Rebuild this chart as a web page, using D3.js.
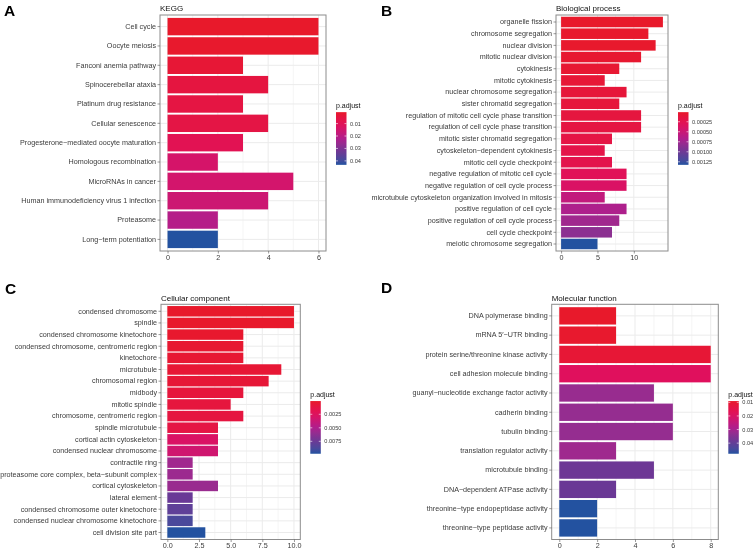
<!DOCTYPE html>
<html><head><meta charset="utf-8">
<script src="https://cdn.jsdelivr.net/npm/d3@7"></script>
<style>
body{margin:0;background:#fff;}
svg{display:block;font-family:"Liberation Sans",Arial,Helvetica,sans-serif;will-change:transform;opacity:0.999;}
</style></head>
<body><svg id="c" width="753" height="549"></svg>
<script>
// ---------- DATA ----------
const keggTerms = ["Cell cycle","Oocyte meiosis","Fanconi anemia pathway","Spinocerebellar ataxia","Platinum drug resistance","Cellular senescence","Progesterone\u2212mediated oocyte maturation","Homologous recombination","MicroRNAs in cancer","Human immunodeficiency virus 1 infection","Proteasome","Long\u2212term potentiation"];
const keggCount = [6,6,3,4,3,4,3,2,5,4,2,2];
const keggPadj  = [0.0008,0.0012,0.003,0.005,0.0055,0.006,0.009,0.014,0.0145,0.016,0.021,0.0432];
const keggXTicks = [0,2,4,6];
const keggLegTicks = [0.01,0.02,0.03,0.04];

const bpTerms = ["organelle fission","chromosome segregation","nuclear division","mitotic nuclear division","cytokinesis","mitotic cytokinesis","nuclear chromosome segregation","sister chromatid segregation","regulation of mitotic cell cycle phase transition","regulation of cell cycle phase transition","mitotic sister chromatid segregation","cytoskeleton\u2212dependent cytokinesis","mitotic cell cycle checkpoint","negative regulation of mitotic cell cycle","negative regulation of cell cycle process","microtubule cytoskeleton organization involved in mitosis","positive regulation of cell cycle","positive regulation of cell cycle process","cell cycle checkpoint","meiotic chromosome segregation"];
const bpCount = [14,12,13,11,8,6,9,8,11,11,7,6,7,9,9,6,9,8,7,5];
const bpPadj  = [0.00001,0.00002,0.00002,0.00004,0.00006,0.00008,0.0001,0.00011,0.00013,0.00015,0.00017,0.0002,0.00022,0.0003,0.00038,0.00055,0.00068,0.00075,0.00085,0.001326];
const bpXTicks = [0,5,10];
const bpLegTicks = [0.00025,0.0005,0.00075,0.001,0.00125];

const ccTerms = ["condensed chromosome","spindle","condensed chromosome kinetochore","condensed chromosome, centromeric region","kinetochore","microtubule","chromosomal region","midbody","mitotic spindle","chromosome, centromeric region","spindle microtubule","cortical actin cytoskeleton","condensed nuclear chromosome","contractile ring","proteasome core complex, beta\u2212subunit complex","cortical cytoskeleton","lateral element","condensed chromosome outer kinetochore","condensed nuclear chromosome kinetochore","cell division site part"];
const ccCount = [10,10,6,6,6,9,8,6,5,6,4,4,4,2,2,4,2,2,2,3];
const ccPadj  = [0.00005,0.0001,0.0002,0.0003,0.0004,0.0005,0.0006,0.0008,0.0009,0.001,0.0012,0.0028,0.0034,0.0055,0.0057,0.0058,0.0075,0.008,0.0088,0.0098];
const ccXTicks = [0,2.5,5,7.5,10];
const ccLegTicks = [0.0025,0.005,0.0075];

const mfTerms = ["DNA polymerase binding","mRNA 5\u2032\u2212UTR binding","protein serine/threonine kinase activity","cell adhesion molecule binding","guanyl\u2212nucleotide exchange factor activity","cadherin binding","tubulin binding","translation regulator activity","microtubule binding","DNA\u2212dependent ATPase activity","threonine\u2212type endopeptidase activity","threonine\u2212type peptidase activity"];
const mfCount = [3,3,8,8,5,6,6,3,5,3,2,2];
const mfPadj  = [0.00904,0.0095,0.011,0.0185,0.032,0.0325,0.0325,0.031,0.038,0.0385,0.0478,0.0478];
const mfXTicks = [0,2,4,6,8];
const mfLegTicks = [0.01,0.02,0.03,0.04];

// ---------- STYLE / LAYOUT ----------
const ramp = d3.piecewise(d3.interpolateLab, ["#E8192B","#E0105E","#B01E8C","#6C3795","#2352A0"]);
const axisCol = "#3A3A3A", gridCol = "#EBEBEB", borderCol = "#8C8C8C";
const svg = d3.select("#c");
svg.append("rect").attr("width",753).attr("height",549).attr("fill","#fff");

const panels = [
  {tag:"A", tagX:4, tagY:15.5, title:"KEGG", terms:keggTerms, count:keggCount, padj:keggPadj, xt:keggXTicks, xfmt:d3.format("d"), lt:keggLegTicks, lfmt:d3.format(".2f"), box:{l:160,r:326,t:15,b:251}},
  {tag:"B", tagX:381, tagY:15.5, title:"Biological process", terms:bpTerms, count:bpCount, padj:bpPadj, xt:bpXTicks, xfmt:d3.format("d"), lt:bpLegTicks, lfmt:d3.format(".5f"), box:{l:556,r:668,t:15,b:251}},
  {tag:"C", tagX:5, tagY:293.5, title:"Cellular component", terms:ccTerms, count:ccCount, padj:ccPadj, xt:ccXTicks, xfmt:d3.format(".1f"), lt:ccLegTicks, lfmt:d3.format(".4f"), box:{l:161,r:300.3,t:304.3,b:539.5}},
  {tag:"D", tagX:381, tagY:292.5, title:"Molecular function", terms:mfTerms, count:mfCount, padj:mfPadj, xt:mfXTicks, xfmt:d3.format("d"), lt:mfLegTicks, lfmt:d3.format(".2f"), box:{l:551.7,r:718.3,t:304.3,b:539.5}}
];

panels.forEach(p => {
  const B = p.box;
  const g = svg.append("g");
  const maxC = d3.max(p.count);
  const x = d3.scaleLinear().domain([-0.05*maxC, 1.05*maxC]).range([B.l, B.r]);
  const y = d3.scaleBand().domain(p.terms).range([B.t, B.b]).paddingInner(0.1).paddingOuter(0.15);
  const ext = d3.extent(p.padj);
  const col = v => ramp((v - ext[0])/(ext[1]-ext[0]));

  const minor = [];
  for (let i=0;i<p.xt.length-1;i++) minor.push((p.xt[i]+p.xt[i+1])/2);
  g.selectAll(".mn").data(minor).join("line")
    .attr("x1",d=>x(d)).attr("x2",d=>x(d)).attr("y1",B.t).attr("y2",B.b)
    .attr("stroke",gridCol).attr("stroke-width",0.5);
  g.selectAll(".mj").data(p.xt).join("line")
    .attr("x1",d=>x(d)).attr("x2",d=>x(d)).attr("y1",B.t).attr("y2",B.b)
    .attr("stroke",gridCol).attr("stroke-width",1);
  g.selectAll(".hy").data(p.terms).join("line")
    .attr("x1",B.l).attr("x2",B.r).attr("y1",d=>y(d)+y.bandwidth()/2).attr("y2",d=>y(d)+y.bandwidth()/2)
    .attr("stroke",gridCol).attr("stroke-width",1);

  g.selectAll(".bar").data(p.terms).join("rect")
    .attr("x",x(0)).attr("y",d=>y(d))
    .attr("width",(d,i)=>x(p.count[i])-x(0)).attr("height",y.bandwidth())
    .attr("fill",(d,i)=>col(p.padj[i]));

  g.append("rect").attr("x",B.l).attr("y",B.t).attr("width",B.r-B.l).attr("height",B.b-B.t)
    .attr("fill","none").attr("stroke",borderCol).attr("stroke-width",1);

  const xa = g.append("g").attr("transform",`translate(0,${B.b})`)
    .call(d3.axisBottom(x).tickValues(p.xt).tickFormat(p.xfmt).tickSize(2.5).tickPadding(1));
  const ya = g.append("g").attr("transform",`translate(${B.l},0)`)
    .call(d3.axisLeft(y).tickSize(2.5).tickPadding(1.5));
  [xa,ya].forEach(a=>{
    a.select(".domain").remove();
    a.selectAll("line").attr("stroke","#555").attr("stroke-width",0.6);
    a.selectAll("text").attr("fill",axisCol).attr("font-size",7.2).attr("font-family","Liberation Sans, Arial, sans-serif");
  });

  g.append("text").attr("x",B.l).attr("y",B.t-3.7).text(p.title)
    .attr("font-size",8).attr("fill","#111");
  svg.append("text").attr("x",p.tagX).attr("y",p.tagY).text(p.tag)
    .attr("font-size",15.5).attr("font-weight","bold").attr("fill","#000");

  const lx = B.r + 10, cbH = 52.7, cbW = 10.5;
  const cbTop = (B.t+B.b)/2 + 5.5 - cbH/2;
  const gid = "grad"+p.tag;
  const grad = svg.append("defs").append("linearGradient").attr("id",gid)
    .attr("x1",0).attr("x2",0).attr("y1",0).attr("y2",1);
  d3.range(0,1.0001,0.1).forEach(t=>grad.append("stop").attr("offset",t).attr("stop-color",ramp(t)));
  g.append("text").attr("x",lx).attr("y",cbTop-4).text("p.adjust").attr("font-size",7).attr("fill","#111");
  g.append("rect").attr("x",lx).attr("y",cbTop).attr("width",cbW).attr("height",cbH).attr("fill",`url(#${gid})`);
  const ly = d3.scaleLinear().domain(ext).range([cbTop, cbTop+cbH]);
  p.lt.forEach(v=>{
    const yy = ly(v);
    g.append("line").attr("x1",lx).attr("x2",lx+2).attr("y1",yy).attr("y2",yy).attr("stroke","#fff").attr("stroke-width",0.6);
    g.append("line").attr("x1",lx+cbW-2).attr("x2",lx+cbW).attr("y1",yy).attr("y2",yy).attr("stroke","#fff").attr("stroke-width",0.6);
    g.append("text").attr("x",lx+cbW+3.5).attr("y",yy).attr("dy","0.35em").text(p.lfmt(v))
      .attr("font-size",5.6).attr("fill",axisCol);
  });
});
</script></body></html>
